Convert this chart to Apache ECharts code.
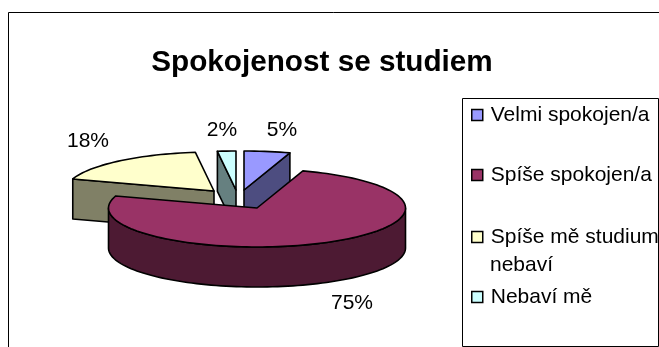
<!DOCTYPE html>
<html><head><meta charset="utf-8">
<style>html,body{margin:0;padding:0;background:#fff}#c{width:659px;height:347px}</style>
<script src="https://cdn.jsdelivr.net/npm/echarts@6/dist/echarts.min.js"></script>
</head><body><div id="c"></div>
<script>
const categories = ['Velmi spokojen/a', 'Spíše spokojen/a', 'Spíše mě studium nebaví', 'Nebaví mě'];
const percentValues = [5, 75, 18, 2];
const titleText = 'Spokojenost se studiem';

const topColors = ['#9999FF', '#993366', '#FFFFCC', '#CCFFFF'];
const sideColors = ['#4D4D80', '#4D1A33', '#808066', '#668080'];
const drawOrder = [2, 4, 3, 1];
const apexes = [[244, 190], [257, 208], [214, 191], [236, 190]];
const labelAt = [[282, 130], [352, 303], [88, 141], [222, 130]];
const legendTops = [101, 161, 223, 283];
const RX = 148.5, RY = 39, DEPTH = 40, LW = 1.6;
const F = '"Liberation Sans", Arial, sans-serif';

const total = percentValues.reduce((a, b) => a + b, 0);
function startAngle(i) {
  let s = 0;
  for (let k = 0; k < i; k++) s += percentValues[k];
  return s / total * 360;
}
function rim(c, deg, dy) {
  const t = deg * Math.PI / 180;
  return [c[0] + RX * Math.sin(t), c[1] - RY * Math.cos(t) + (dy || 0)];
}
function arcPts(c, a0, a1, dy) {
  const pts = [], n = Math.max(2, Math.ceil((a1 - a0) / 2));
  for (let k = 0; k <= n; k++) pts.push(rim(c, a0 + (a1 - a0) * k / n, dy));
  return pts;
}
function poly(points, fill) {
  return { type: 'polygon', shape: { points }, style: { fill, stroke: '#000', lineWidth: LW, lineJoin: 'round' } };
}
function sliceRenderer(i) {
  return function (params, api) {
    const v = api.value(0);
    const a0 = startAngle(i), a1 = a0 + v / total * 360;
    const c = apexes[i], side = sideColors[i], kids = [];
    const down = p => [p[0], p[1] + DEPTH];
    const face = deg => {
      const p = rim(c, deg);
      return poly([c, p, down(p), down(c)], side);
    };
    if (Math.sin(a0 * Math.PI / 180) < -1e-6) kids.push(face(a0));
    if (Math.sin(a1 * Math.PI / 180) > 1e-6) kids.push(face(a1));
    const w0 = Math.max(a0, 90), w1 = Math.min(a1, 270);
    if (w1 > w0) {
      kids.push(poly(arcPts(c, w0, w1, 0).concat(arcPts(c, w0, w1, DEPTH).reverse()), side));
    }
    kids.push(poly([c].concat(arcPts(c, a0, a1, 0)), topColors[i]));
    kids.push({
      type: 'text', x: labelAt[i][0], y: labelAt[i][1],
      style: { text: v + '%', font: '21px ' + F, fill: '#000', align: 'center', verticalAlign: 'middle' }
    });
    return { type: 'group', children: kids };
  };
}
function line(x1, y1, x2, y2) {
  return { type: 'line', shape: { x1, y1, x2, y2 }, style: { stroke: '#000', lineWidth: 1 } };
}
const option = {
  animation: false,
  backgroundColor: '#fff',
  title: {
    text: titleText, left: 317, top: 43, textAlign: 'center',
    textStyle: { fontFamily: F, fontWeight: 'bold', fontSize: 29.7, color: '#000' }
  },
  legend: categories.map((name, i) => ({
    data: [{ name, icon: 'rect' }],
    orient: 'vertical', left: 471, top: legendTops[i], padding: 0,
    itemWidth: 11, itemHeight: 11, selectedMode: false,
    itemStyle: { color: topColors[i], borderColor: '#000', borderWidth: 1.5 },
    formatter: n => n === categories[2] ? 'Spíše mě studium' : n,
    textStyle: { fontFamily: F, fontSize: 21, color: '#000', lineHeight: 28, padding: [0, 0, 0, 3] }
  })),
  graphic: [
    line(8.5, 12.5, 659, 12.5), line(8.5, 12.5, 8.5, 347),
    line(462.5, 98.5, 658.5, 98.5), line(462.5, 98.5, 462.5, 346.5),
    line(462.5, 346.5, 658.5, 346.5), line(658.5, 98.5, 658.5, 346.5),
    { type: 'text', x: 490, y: 265, style: { text: 'nebaví', font: '21px ' + F, fill: '#000', verticalAlign: 'middle' } }
  ],
  series: categories.map((name, i) => ({
    type: 'custom', name, coordinateSystem: 'none', z: drawOrder[i],
    renderItem: sliceRenderer(i), silent: true,
    data: [[percentValues[i]]]
  }))
};
const chart = echarts.init(document.getElementById('c'));
chart.setOption(option);
</script></body></html>
